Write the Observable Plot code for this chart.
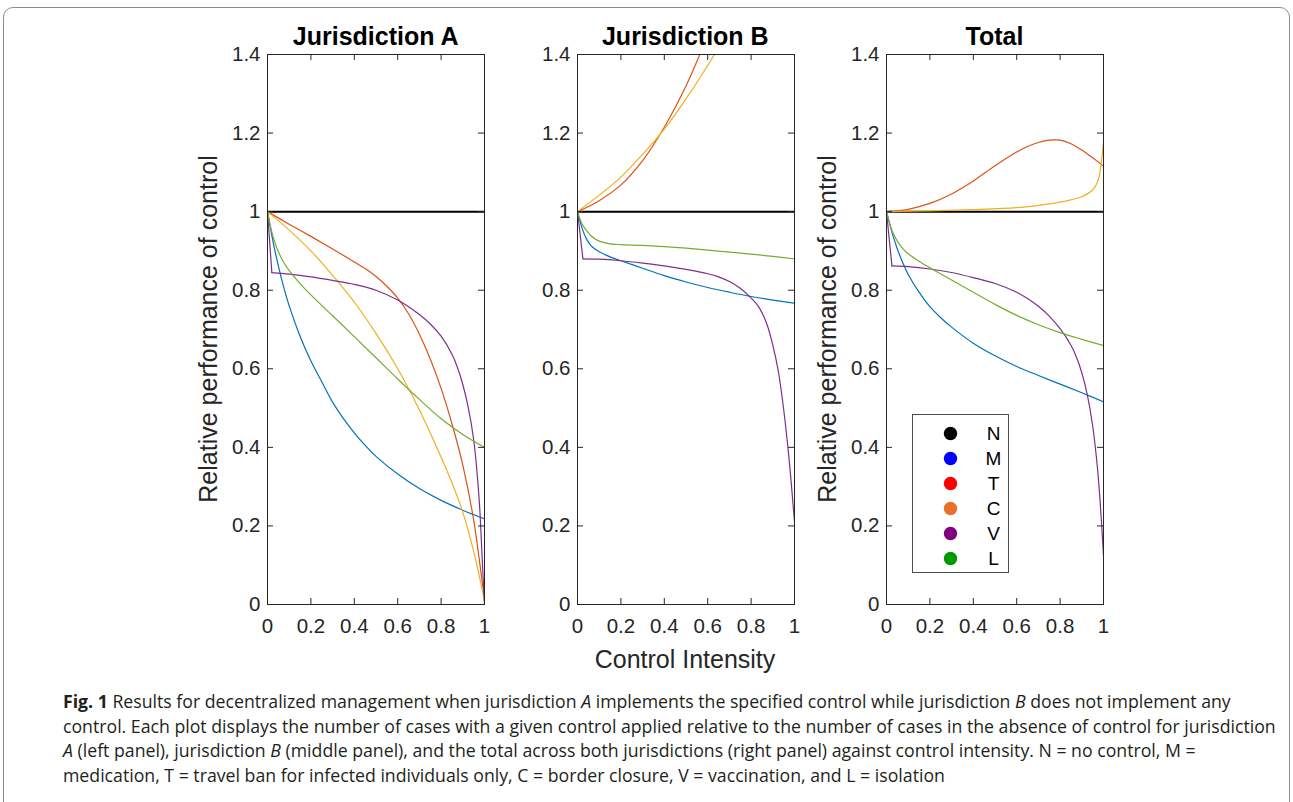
<!DOCTYPE html>
<html>
<head>
<meta charset="utf-8">
<script src="https://cdn.jsdelivr.net/npm/d3@7"></script>
<script src="https://cdn.jsdelivr.net/npm/@observablehq/plot@0.6"></script>
<style>
  body { margin:0; background:#fff; width:1293px; height:802px; overflow:hidden; position:relative;
         font-family:"Liberation Sans", Arial, Helvetica, sans-serif; }
  #frame { position:absolute; left:3px; top:7px; width:1287px; height:900px; border:1px solid #8c8c8c;
           border-radius:10px; box-sizing:border-box; }
  .panel { position:absolute; top:20px; }
  .title { position:absolute; font-weight:bold; font-size:25px; line-height:25px; color:#000;
           white-space:nowrap; transform:translateX(-50%); }
  .ylab { position:absolute; font-size:25px; line-height:25px; color:#262626; white-space:nowrap;
          transform:translate(-50%,-50%) rotate(-90deg); }
  .xlab { position:absolute; font-size:25px; line-height:25px; color:#262626; white-space:nowrap;
          transform:translateX(-50%); }
  #legend { position:absolute; left:912px; top:414px; width:97px; height:159px; border:1px solid #4d4d4d;
            box-sizing:border-box; background:#fff; }
  #caption { position:absolute; left:63px; top:689px; font-family:"Open Sans", "Noto Sans", sans-serif;
             font-size:17.7px; line-height:24.5px; color:#231f20; white-space:nowrap; }
</style>
</head>
<body>
<div id="frame"></div>
<div id="pA" class="panel" style="left:180px"></div>
<div id="pB" class="panel" style="left:490px"></div>
<div id="pC" class="panel" style="left:799px"></div>
<div class="title" style="left:375.7px; top:24px">Jurisdiction A</div>
<div class="title" style="left:685.3px; top:24px">Jurisdiction B</div>
<div class="title" style="left:994.5px; top:24px">Total</div>
<div class="ylab" style="left:208px; top:329px">Relative performance of control</div>
<div class="ylab" style="left:826.5px; top:329px">Relative performance of control</div>
<div class="xlab" style="left:685px; top:647px">Control Intensity</div>
<div id="legend"></div>
<div id="caption">
  <div><b>Fig. 1</b> Results for decentralized management when jurisdiction <i>A</i> implements the specified control while jurisdiction <i>B</i> does not implement any</div>
  <div>control. Each plot displays the number of cases with a given control applied relative to the number of cases in the absence of control for jurisdiction</div>
  <div><i>A</i> (left panel), jurisdiction <i>B</i> (middle panel), and the total across both jurisdictions (right panel) against control intensity. N = no control, M =</div>
  <div>medication, T = travel ban for infected individuals only, C = border closure, V = vaccination, and L = isolation</div>
</div>
<script>
// ---------- data ----------
const xTicks = [0, 0.2, 0.4, 0.6, 0.8, 1];
const yTicks = [0, 0.2, 0.4, 0.6, 0.8, 1, 1.2, 1.4];
const seriesKeys = ["N", "M", "T", "C", "V", "L"];
const lineColors = ["#000000", "#0072BD", "#D95319", "#EDB120", "#7E2F8E", "#77AC30"];
const legendColors = ["#000000", "#0000FF", "#FF0000", "#E8702A", "#800080", "#009A00"];

// Jurisdiction A  [control intensity, relative performance]
const A_N = [[0,1],[1,1]];
const A_M = [[0,1],[0.025,0.925],[0.05,0.862],[0.075,0.807],[0.1,0.76],[0.15,0.683],[0.2,0.62],[0.25,0.567],[0.3,0.515],[0.35,0.473],[0.4,0.437],[0.45,0.405],[0.5,0.377],[0.6,0.332],[0.7,0.295],[0.8,0.265],[0.9,0.24],[1,0.218]];
const A_T = [[0,1],[0.1,0.968],[0.2,0.937],[0.3,0.905],[0.4,0.872],[0.45,0.855],[0.5,0.835],[0.55,0.81],[0.6,0.78],[0.65,0.74],[0.7,0.688],[0.75,0.625],[0.8,0.55],[0.85,0.46],[0.9,0.355],[0.95,0.215],[1,0.01]];
const A_C = [[0,1],[0.1,0.953],[0.2,0.9],[0.3,0.838],[0.4,0.77],[0.5,0.69],[0.6,0.6],[0.7,0.495],[0.8,0.375],[0.85,0.31],[0.9,0.235],[0.95,0.135],[1,0.01]];
const A_V = [[0,1],[0.02,0.845],[0.1,0.841],[0.2,0.834],[0.3,0.825],[0.4,0.815],[0.5,0.8],[0.6,0.775],[0.65,0.758],[0.7,0.738],[0.75,0.714],[0.8,0.683],[0.85,0.637],[0.875,0.604],[0.9,0.56],[0.925,0.502],[0.95,0.42],[0.975,0.27],[0.99,0.11],[1,0.0]];
const A_L = [[0,1],[0.02,0.948],[0.04,0.912],[0.06,0.886],[0.08,0.866],[0.1,0.85],[0.15,0.817],[0.2,0.788],[0.3,0.735],[0.4,0.682],[0.5,0.628],[0.6,0.574],[0.7,0.522],[0.8,0.473],[0.9,0.433],[1,0.4]];

// Jurisdiction B
const B_N = [[0,1],[1,1]];
const B_M = [[0,1],[0.02,0.96],[0.04,0.932],[0.06,0.915],[0.08,0.905],[0.1,0.898],[0.15,0.885],[0.2,0.875],[0.3,0.856],[0.4,0.837],[0.5,0.821],[0.6,0.807],[0.7,0.795],[0.8,0.784],[0.9,0.775],[1,0.767]];
const B_T = [[0,1],[0.1,1.028],[0.2,1.068],[0.3,1.13],[0.4,1.215],[0.5,1.32],[0.6,1.45],[0.7,1.6]];
const B_C = [[0,1],[0.1,1.042],[0.2,1.088],[0.3,1.146],[0.4,1.21],[0.5,1.287],[0.6,1.372],[0.7,1.465]];
const B_V = [[0,1],[0.025,0.88],[0.1,0.879],[0.2,0.875],[0.3,0.869],[0.4,0.862],[0.5,0.853],[0.6,0.842],[0.65,0.834],[0.7,0.822],[0.75,0.805],[0.8,0.78],[0.825,0.765],[0.85,0.743],[0.875,0.71],[0.9,0.66],[0.925,0.595],[0.95,0.497],[0.975,0.37],[1,0.21]];
const B_L = [[0,1],[0.02,0.97],[0.04,0.953],[0.06,0.94],[0.08,0.931],[0.1,0.925],[0.15,0.918],[0.2,0.916],[0.3,0.914],[0.4,0.911],[0.5,0.907],[0.6,0.902],[0.7,0.897],[0.8,0.892],[0.9,0.886],[1,0.88]];

// Total
const C_N = [[0,1],[1,1]];
const C_M = [[0,1],[0.025,0.948],[0.05,0.905],[0.075,0.87],[0.1,0.84],[0.15,0.795],[0.2,0.758],[0.25,0.73],[0.3,0.706],[0.4,0.665],[0.5,0.633],[0.6,0.606],[0.7,0.583],[0.8,0.561],[0.9,0.539],[1,0.516]];
const C_T = [[0,1],[0.1,1.006],[0.2,1.021],[0.3,1.045],[0.4,1.078],[0.5,1.117],[0.6,1.152],[0.65,1.166],[0.7,1.176],[0.75,1.182],[0.8,1.182],[0.85,1.173],[0.9,1.157],[0.95,1.137],[1,1.116]];
const C_C = [[0,1],[0.2,1.002],[0.4,1.005],[0.6,1.01],[0.7,1.016],[0.8,1.024],[0.85,1.03],[0.9,1.038],[0.95,1.055],[0.97,1.072],[0.98,1.09],[0.99,1.125],[1,1.178]];
const C_V = [[0,1],[0.025,0.862],[0.1,0.86],[0.2,0.854],[0.3,0.845],[0.4,0.832],[0.5,0.817],[0.6,0.795],[0.65,0.779],[0.7,0.759],[0.75,0.734],[0.8,0.702],[0.85,0.66],[0.875,0.63],[0.9,0.59],[0.925,0.535],[0.95,0.455],[0.975,0.33],[1,0.124]];
const C_L = [[0,1],[0.025,0.952],[0.05,0.925],[0.075,0.906],[0.1,0.893],[0.15,0.874],[0.2,0.857],[0.3,0.826],[0.4,0.795],[0.5,0.764],[0.6,0.736],[0.7,0.712],[0.8,0.692],[0.9,0.675],[1,0.659]];

// ---------- drawing ----------
const W = 320, H = 630, mL = 87, mR = 16, mT = 34, mB = 46;
const plotW = W - mL - mR, plotH = H - mT - mB;
const axisColor = "#262626";

function seriesLine(data, color, width, curve) {
  return Plot.line(data, {x: d => d[0], y: d => d[1], stroke: color, strokeWidth: width, curve, clip: true});
}

function panel(seriesList) {
  const marks = [];
  seriesList.forEach((data, i) => {
    if (i === 0) {
      marks.push(seriesLine(data, lineColors[i], 2, "linear"));
    } else if (i === 4) {
      // vaccination: sharp initial drop, then smooth
      marks.push(seriesLine(data.slice(0, 2), lineColors[i], 1.2, "linear"));
      marks.push(seriesLine(data.slice(1), lineColors[i], 1.2, "catmull-rom"));
    } else {
      marks.push(seriesLine(data, lineColors[i], 1.2, "catmull-rom"));
    }
  });
  marks.push(
    Plot.frame({stroke: axisColor, strokeWidth: 1}),
    Plot.tickX(xTicks, {x: d => d, insetTop: plotH - 6, stroke: axisColor}),
    Plot.tickX(xTicks, {x: d => d, insetBottom: plotH - 6, stroke: axisColor}),
    Plot.tickY(yTicks, {y: d => d, insetRight: plotW - 6, stroke: axisColor}),
    Plot.tickY(yTicks, {y: d => d, insetLeft: plotW - 6, stroke: axisColor}),
    Plot.axisX(xTicks, {tickSize: 0, tickPadding: 14, tickFormat: d => String(d), label: null}),
    Plot.axisY(yTicks, {tickSize: 0, tickPadding: 7, tickFormat: d => String(d), label: null})
  );
  return Plot.plot({
    width: W, height: H, marginLeft: mL, marginRight: mR, marginTop: mT, marginBottom: mB,
    style: {fontFamily: '"Liberation Sans", Arial, Helvetica, sans-serif', fontSize: "20.5px",
            color: axisColor, background: "transparent", overflow: "visible"},
    x: {domain: [0, 1]},
    y: {domain: [0, 1.4]},
    marks
  });
}

document.getElementById("pA").append(panel([A_N, A_M, A_T, A_C, A_V, A_L]));
document.getElementById("pB").append(panel([B_N, B_M, B_T, B_C, B_V, B_L]));
document.getElementById("pC").append(panel([C_N, C_M, C_T, C_C, C_V, C_L]));

// legend
const legend = Plot.plot({
  width: 95, height: 157, marginLeft: 0, marginRight: 0, marginTop: 16, marginBottom: 13,
  style: {fontFamily: '"Liberation Sans", Arial, Helvetica, sans-serif', fontSize: "19px",
          color: "#000", background: "transparent"},
  x: {axis: null, domain: [0, 1]},
  y: {type: "point", domain: seriesKeys, padding: 0, axis: null},
  marks: [
    Plot.dot(seriesKeys, {y: d => d, frameAnchor: "left", dx: 37, r: 6.7,
                          fill: (d, i) => legendColors[i], stroke: "none"}),
    Plot.text(seriesKeys, {y: d => d, frameAnchor: "left", dx: 80, text: d => d,
                           textAnchor: "middle", fill: "#000"})
  ]
});
document.getElementById("legend").append(legend);
</script>
</body>
</html>
